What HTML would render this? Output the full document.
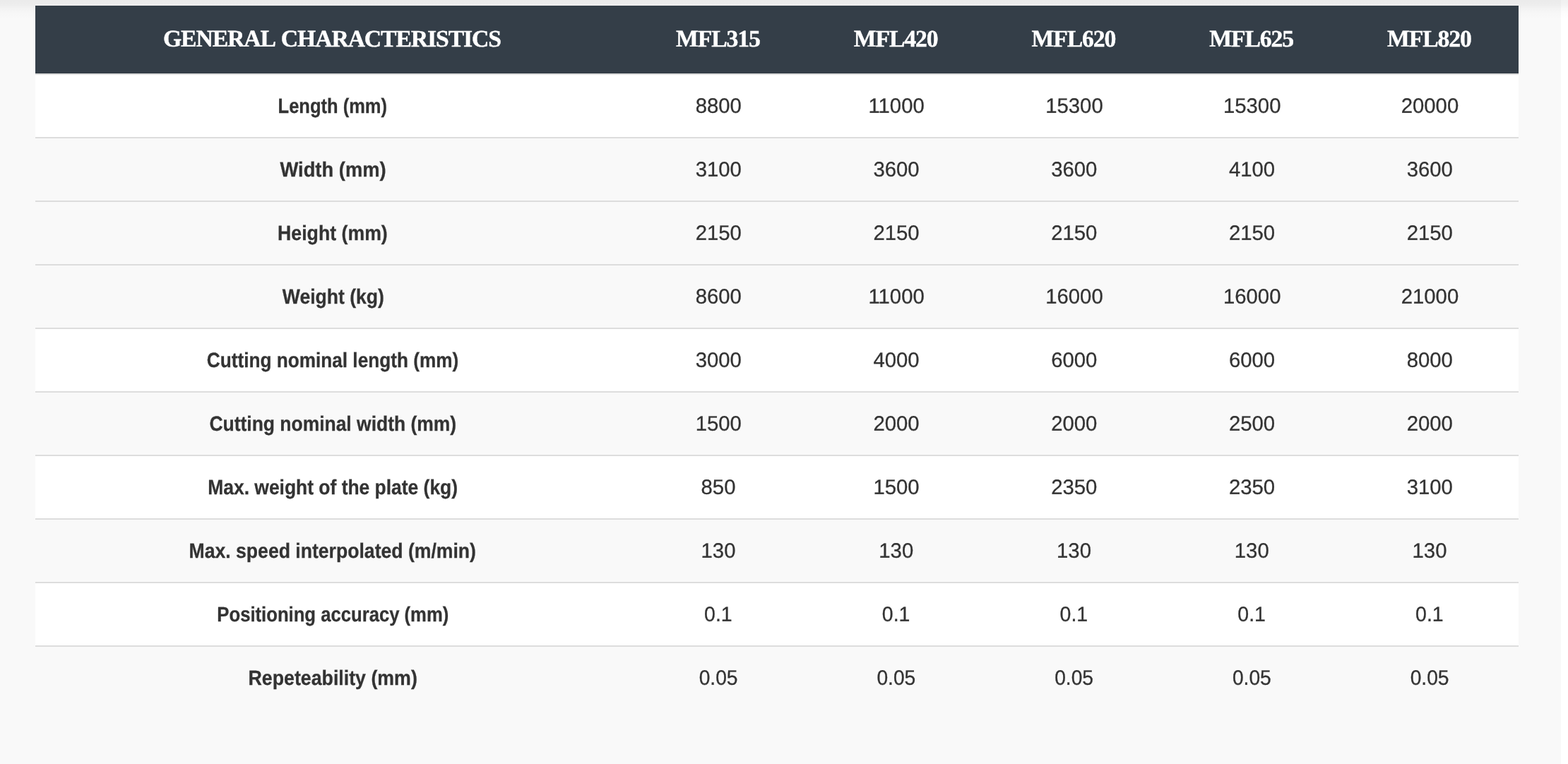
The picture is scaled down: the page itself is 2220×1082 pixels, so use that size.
<!DOCTYPE html>
<html lang="en">
<head>
<meta charset="utf-8">
<title>General characteristics</title>
<style>
*{box-sizing:border-box;margin:0;padding:0}
html,body{width:2220px;height:1082px;overflow:hidden;background:#f9f9f9}
body{position:relative;font-family:"Liberation Sans",sans-serif;color:#333}
.topshade{position:absolute;left:0;top:0;width:2220px;height:28px;background:linear-gradient(rgba(0,0,0,.058) 0,rgba(0,0,0,.056) 3px,rgba(0,0,0,.052) 5px,rgba(0,0,0,.044) 8px,rgba(0,0,0,.036) 10px,rgba(0,0,0,.024) 13px,rgba(0,0,0,.016) 16px,rgba(0,0,0,.008) 20px,rgba(0,0,0,.002) 24px,rgba(0,0,0,0) 27px)}
.rband{position:absolute;left:2210px;top:0;width:10px;height:1082px;background:#fff}
table{position:absolute;left:50px;top:8px;width:2100px;border-collapse:separate;border-spacing:0;table-layout:fixed}
col.c1{width:840px}
col.cn{width:252px}
th,td{text-align:center;vertical-align:middle;white-space:nowrap;line-height:40px;--cx:0px}
th span,td span{display:inline-block;transform-origin:50% 30px;transform:translate(calc(var(--dx) + var(--cx)),var(--dy)) rotate(0.03deg) scaleX(var(--sx))}
th{height:96px;background:#343e48;color:#fff;font-family:"Liberation Serif",serif;font-weight:bold;font-size:33.7px;letter-spacing:-1.1px;word-spacing:2.5px;-webkit-text-stroke:0.4px #fff;--dx:0px;--dy:-1.1px;--sx:1}
th:first-child{--dx:0px}
td{height:90px;border-top:2px solid #ddd;font-size:29.6px;-webkit-text-stroke:0.3px #333;--dx:1.3px;--dy:-0.2px;--sx:0.99}
td:first-child{font-weight:bold;font-size:29.4px;-webkit-text-stroke-width:0.3px;--dy:-0.1px}
tbody tr.w td{background:#fff}
th:nth-child(3),td:nth-child(3){--cx:-0.25px}
th:nth-child(4),td:nth-child(4){--cx:-0.5px}
th:nth-child(5),td:nth-child(5){--cx:-0.75px}
th:nth-child(6),td:nth-child(6){--cx:-1.0px}
.r1 td:first-child{--dx:0.8px;--sx:0.868}
.r2 td:first-child{--dx:1.9px;--sx:0.931}
.r3 td:first-child{--dx:1.2px;--sx:0.908}
.r4 td:first-child{--dx:2.1px;--sx:0.903}
.r5 td:first-child{--dx:1px;--sx:0.891}
.r6 td:first-child{--dx:1px;--sx:0.9}
.r7 td:first-child{--dx:1.4px;--sx:0.899}
.r8 td:first-child{--dx:1.2px;--sx:0.905}
.r9 td:first-child{--dx:1.5px;--sx:0.873}
.r10 td:first-child{--dx:0.7px;--sx:0.91}
.r9 td+td{--sx:0.962}
.r10 td+td{--sx:0.953}
</style>
</head>
<body>
<div class="rband"></div>
<div class="topshade"></div>
<table>
<colgroup><col class="c1"><col class="cn"><col class="cn"><col class="cn"><col class="cn"><col class="cn"></colgroup>
<thead>
<tr><th><span>GENERAL CHARACTERISTICS</span></th><th><span>MFL315</span></th><th><span>MFL420</span></th><th><span>MFL620</span></th><th><span>MFL625</span></th><th><span>MFL820</span></th></tr>
</thead>
<tbody>
<tr class="r1 w"><td><span>Length (mm)</span></td><td><span>8800</span></td><td><span>11000</span></td><td><span>15300</span></td><td><span>15300</span></td><td><span>20000</span></td></tr>
<tr class="r2"><td><span>Width (mm)</span></td><td><span>3100</span></td><td><span>3600</span></td><td><span>3600</span></td><td><span>4100</span></td><td><span>3600</span></td></tr>
<tr class="r3"><td><span>Height (mm)</span></td><td><span>2150</span></td><td><span>2150</span></td><td><span>2150</span></td><td><span>2150</span></td><td><span>2150</span></td></tr>
<tr class="r4"><td><span>Weight (kg)</span></td><td><span>8600</span></td><td><span>11000</span></td><td><span>16000</span></td><td><span>16000</span></td><td><span>21000</span></td></tr>
<tr class="r5 w"><td><span>Cutting nominal length (mm)</span></td><td><span>3000</span></td><td><span>4000</span></td><td><span>6000</span></td><td><span>6000</span></td><td><span>8000</span></td></tr>
<tr class="r6"><td><span>Cutting nominal width (mm)</span></td><td><span>1500</span></td><td><span>2000</span></td><td><span>2000</span></td><td><span>2500</span></td><td><span>2000</span></td></tr>
<tr class="r7 w"><td><span>Max. weight of the plate (kg)</span></td><td><span>850</span></td><td><span>1500</span></td><td><span>2350</span></td><td><span>2350</span></td><td><span>3100</span></td></tr>
<tr class="r8"><td><span>Max. speed interpolated (m/min)</span></td><td><span>130</span></td><td><span>130</span></td><td><span>130</span></td><td><span>130</span></td><td><span>130</span></td></tr>
<tr class="r9 w"><td><span>Positioning accuracy (mm)</span></td><td><span>0.1</span></td><td><span>0.1</span></td><td><span>0.1</span></td><td><span>0.1</span></td><td><span>0.1</span></td></tr>
<tr class="r10"><td><span>Repeteability (mm)</span></td><td><span>0.05</span></td><td><span>0.05</span></td><td><span>0.05</span></td><td><span>0.05</span></td><td><span>0.05</span></td></tr>
</tbody>
</table>
</body>
</html>
